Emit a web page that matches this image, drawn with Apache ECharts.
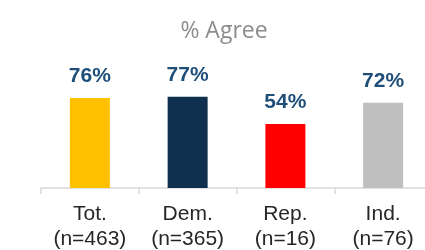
<!DOCTYPE html>
<html>
<head>
<meta charset="utf-8">
<script src="https://cdn.jsdelivr.net/npm/echarts@6/dist/echarts.min.js"></script>
<style>html,body{margin:0;padding:0;background:#fff}#c{width:425px;height:250px}</style>
</head>
<body>
<div id="c"></div>
<script>
const categories = ['Tot.\n(n=463)', 'Dem.\n(n=365)', 'Rep.\n(n=16)', 'Ind.\n(n=76)'];
const values = [76, 77, 54, 72];
const colors = ['#FFC000', '#10304F', '#FF0000', '#BFBFBF'];
const titleText = '% Agree';

const chart = echarts.init(document.getElementById('c'), null, {renderer: 'canvas'});
chart.setOption({
  animation: false,
  title: {
    text: titleText,
    left: 219,
    top: 15,
    textAlign: 'center',
    textStyle: {fontFamily: 'Open Sans', fontWeight: 'normal', fontSize: 23, color: '#8C8C8C'}
  },
  grid: {left: 41, top: 69.6, width: 391, height: 118.4, containLabel: false, outerBoundsMode: 'none'},
  xAxis: {
    type: 'category',
    data: categories,
    axisLine: {lineStyle: {color: '#D9D9D9', width: 1.5}},
    axisTick: {show: true, length: 6, lineStyle: {color: '#D9D9D9', width: 1.5}},
    axisLabel: {fontFamily: 'Arial, Liberation Sans', fontSize: 21, color: '#262626', lineHeight: 25, margin: 14, interval: 0}
  },
  yAxis: {type: 'value', min: 0, max: 100, show: false, splitLine: {show: false}},
  series: [{
    type: 'bar',
    barWidth: 40,
    data: values.map((v, i) => ({value: v, itemStyle: {color: colors[i]}})),
    label: {
      show: true,
      position: 'top',
      distance: 11,
      formatter: p => p.value + '%',
      fontFamily: 'Arial, Liberation Sans',
      fontWeight: 'bold',
      fontSize: 21,
      color: '#1F4E79'
    }
  }]
});
</script>
</body>
</html>
